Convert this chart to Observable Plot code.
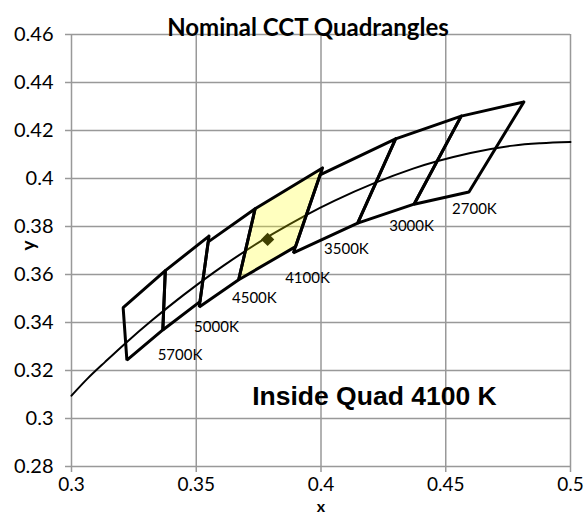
<!DOCTYPE html>
<html><head><meta charset="utf-8">
<script src="https://cdn.jsdelivr.net/npm/d3@7"></script>
<script src="https://cdn.jsdelivr.net/npm/@observablehq/plot@0.6"></script>
<style>body{margin:0;background:#fff}</style>
</head><body><div id="chart"></div>
<script>
// Planckian locus points
const locusX = [0.3000, 0.3064, 0.3135, 0.3221, 0.3324, 0.3451, 0.3608, 0.3805, 0.4053, 0.4369, 0.4599, 0.4770, 0.4880, 0.5000];
const locusY = [0.3095, 0.3166, 0.3236, 0.3318, 0.3410, 0.3516, 0.3636, 0.3768, 0.3907, 0.4041, 0.4106, 0.4137, 0.4147, 0.4152];

// Nominal CCT quadrangles (corners: top-right, top-left, bottom-left, bottom-right)
const cctNames = ["5700K", "5000K", "4500K", "4100K", "3500K", "3000K", "2700K"];
const quadX = [
  [0.3376, 0.3207, 0.3222, 0.3366],
  [0.3551, 0.3376, 0.3366, 0.3515],
  [0.3736, 0.3548, 0.3512, 0.3670],
  [0.4006, 0.3736, 0.3670, 0.3898],
  [0.4299, 0.3996, 0.3889, 0.4147],
  [0.4562, 0.4299, 0.4147, 0.4373],
  [0.4813, 0.4562, 0.4373, 0.4593]
];
const quadY = [
  [0.3616, 0.3462, 0.3243, 0.3369],
  [0.3760, 0.3616, 0.3369, 0.3487],
  [0.3874, 0.3736, 0.3465, 0.3578],
  [0.4044, 0.3874, 0.3578, 0.3716],
  [0.4165, 0.4015, 0.3690, 0.3814],
  [0.4260, 0.4165, 0.3814, 0.3893],
  [0.4319, 0.4260, 0.3893, 0.3944]
];
const highlighted = "4100K";

// CCT label positions
const labelX = [0.3435, 0.3581, 0.3733, 0.3946, 0.4102, 0.4363, 0.4615];
const labelY = [0.3263, 0.3379, 0.3500, 0.3583, 0.3704, 0.3800, 0.3871];

// Test point
const pointX = [0.3786];
const pointY = [0.3746];

const xTicks = [0.3, 0.35, 0.4, 0.45, 0.5];
const yTicks = [0.28, 0.3, 0.32, 0.34, 0.36, 0.38, 0.4, 0.42, 0.44, 0.46];

const titleText = "Nominal CCT Quadrangles";
const noteText = "Inside Quad 4100 K";
const noteX = 0.4214, noteY = 0.3090;

// build tables
const quadRows = [];
cctNames.forEach((name, i) => {
  for (let k = 0; k <= 4; k++) {
    quadRows.push({quad: name, x: quadX[i][k % 4], y: quadY[i][k % 4]});
  }
});
const hiRows = quadRows.filter(d => d.quad === highlighted);
const locus = locusX.map((x, i) => ({x, y: locusY[i]}));
const labels = cctNames.map((t, i) => ({x: labelX[i], y: labelY[i], t}));
const pts = pointX.map((x, i) => ({x, y: pointY[i]}));
const fmt = d => String(+d.toFixed(2));
const font = "Lato, 'Open Sans', sans-serif";

const chart = Plot.plot({
  width: 587, height: 516,
  marginLeft: 71, marginRight: 17, marginTop: 34, marginBottom: 50,
  style: {fontFamily: font, fontSize: "20px", color: "#000", background: "#fff"},
  x: {domain: [0.3, 0.5], label: null},
  y: {domain: [0.28, 0.46], label: null},
  marks: [
    Plot.gridX(xTicks, {stroke: "#999", strokeOpacity: 1, strokeWidth: 1.5}),
    Plot.gridY(yTicks, {stroke: "#999", strokeOpacity: 1, strokeWidth: 1.5}),
    Plot.axisX(xTicks, {tickFormat: fmt, tickSize: 6, stroke: "#999", strokeWidth: 1.5, tickPadding: 5, fontSize: 19, fill: "#000", label: null}),
    Plot.axisY(yTicks, {tickFormat: fmt, tickSize: 6, stroke: "#999", strokeWidth: 1.5, tickPadding: 12, fontSize: 20, fill: "#000", label: null}),
    Plot.line(locus, {x: "x", y: "y", stroke: "#000", strokeWidth: 2, curve: "catmull-rom"}),
    Plot.dot(pts, {x: "x", y: "y", symbol: "diamond2", r: 6, fill: "#000", stroke: "none"}),
    Plot.line(hiRows, {x: "x", y: "y", fill: "#ffff00", fillOpacity: 0.25, stroke: "none"}),
    Plot.line(quadRows, {x: "x", y: "y", z: "quad", stroke: "#000", strokeWidth: 3, strokeLinejoin: "miter"}),
    Plot.text(labels, {x: "x", y: "y", text: "t", fontSize: 15, fill: "#000"}),
    Plot.text([noteText], {x: () => noteX, y: () => noteY, text: d => d, fontSize: 26.5, fontWeight: "bold", fontFamily: "'Liberation Sans', Arial, sans-serif", fill: "#000"}),
    Plot.text([titleText], {frameAnchor: "top", dy: -16, dx: -13, text: d => d, fontSize: 24, fontWeight: "bold", fill: "#000"}),
    Plot.text(["x"], {frameAnchor: "bottom", dy: 45, text: d => d, fontSize: 16, fontWeight: "bold", fill: "#000"}),
    Plot.text(["y"], {frameAnchor: "left", dx: -43, rotate: -90, text: d => d, fontSize: 19, fontWeight: "bold", fill: "#000"})
  ]
});
document.getElementById("chart").appendChild(chart);
</script>
</body></html>
